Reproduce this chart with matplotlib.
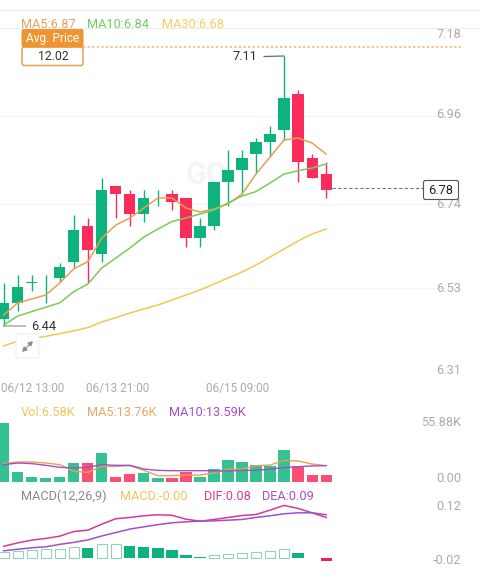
import matplotlib
matplotlib.use('Agg')
import matplotlib.pyplot as plt
from matplotlib.patches import FancyBboxPatch
from matplotlib.transforms import blended_transform_factory

plt.rcParams['font.family'] = ['Roboto', 'DejaVu Sans']

# candles
opens = [6.453, 6.493, 6.543, 6.554, 6.554, 6.594, 6.684, 6.614, 6.785, 6.765, 6.715, 6.754,
         6.765, 6.754, 6.654, 6.684, 6.794, 6.825, 6.865, 6.895, 6.925, 7.015, 6.855, 6.815]
closes = [6.4925, 6.533, 6.543, 6.554, 6.583, 6.674, 6.624, 6.774, 6.765, 6.715, 6.754, 6.754,
          6.745, 6.654, 6.684, 6.794, 6.824, 6.855, 6.895, 6.915, 7.005, 6.846, 6.805, 6.775]
highs = [6.543, 6.5625, 6.5625, 6.5625, 6.592, 6.713, 6.704, 6.804, 6.785, 6.775, 6.775, 6.775,
         6.775, 6.754, 6.704, 6.794, 6.875, 6.875, 6.905, 6.935, 7.11, 7.025, 6.865, 6.845]
lows = [6.435, 6.473, 6.523, 6.493, 6.546, 6.579, 6.543, 6.594, 6.704, 6.685, 6.695, 6.735,
        6.725, 6.633, 6.633, 6.675, 6.735, 6.765, 6.815, 6.858, 6.90, 6.795, 6.805, 6.755]
ma5 = [6.4625, 6.493, 6.5025, 6.5125, 6.5425, 6.578, 6.596, 6.655, 6.6875, 6.705, 6.73, 6.755,
       6.755, 6.73, 6.72, 6.7275, 6.74, 6.765, 6.815, 6.8575, 6.90, 6.905, 6.8925, 6.865]
ma10 = [6.4375, 6.46, 6.471, 6.482, 6.493, 6.521, 6.54, 6.58, 6.605, 6.63, 6.6575, 6.6775,
        6.696, 6.705, 6.715, 6.725, 6.7425, 6.76, 6.771, 6.7925, 6.815, 6.823, 6.83, 6.84]
ma30 = [6.385, 6.3975, 6.404, 6.409, 6.416, 6.423, 6.431, 6.445, 6.456, 6.4675, 6.4775, 6.4875,
        6.50, 6.5125, 6.525, 6.54, 6.555, 6.57, 6.5875, 6.6075, 6.6275, 6.6475, 6.665, 6.6775]

# volume, in K
vol = [56, 9.8, 4.7, 4.1, 5, 17.7, 18, 27.5, 5, 7.3, 8.8, 3.8,
       3.5, 9.8, 4.7, 12.3, 20.8, 19.3, 16.4, 15.5, 30.6, 14.8, 7, 6.58]
vol_ma5 = [17.4, 18.9, 18.9, 18, 16.4, 10.1, 9.1, 14.8, 14.8, 15.5, 11, 6,
           6, 6.6, 6.6, 8.5, 12.3, 12, 15.5, 16, 20.5, 19.9, 17, 15.5]
vol_ma10 = [16.4, 18, 17.4, 15.8, 13.9, 13.3, 13.9, 16.4, 15.8, 15.8, 12.3, 11,
            10.7, 10.7, 10.7, 10.7, 10.4, 11, 11, 12.3, 13.6, 14.5, 15.2, 15.5]

# macd
dif = [0.024, 0.031, 0.0365, 0.04, 0.0446, 0.054, 0.0568, 0.069, 0.08, 0.0825, 0.086, 0.088,
       0.087, 0.079, 0.075, 0.0785, 0.0825, 0.0865, 0.0886, 0.0974, 0.107, 0.1008, 0.092, 0.0825]
dea = [0.015, 0.018, 0.021, 0.023, 0.028, 0.032, 0.037, 0.045, 0.052, 0.059, 0.0635, 0.068,
       0.0717, 0.0737, 0.075, 0.0757, 0.077, 0.0785, 0.0825, 0.086, 0.09, 0.092, 0.092, 0.088]
hist = [0.013, 0.014, 0.016, 0.0176, 0.018, 0.023, 0.02, 0.028, 0.029, 0.025, 0.023, 0.02,
        0.016, 0.0068, 0.002, 0.0054, 0.0074, 0.0095, 0.012, 0.0135, 0.019, 0.0095, 0.001, -0.0068]

date_ticks = [-0.2, 8.15, 16.7]
date_labels = ['06/12 13:00', '06/13 21:00', '06/15 09:00']
price_ticks = [7.18, 6.96, 6.74, 6.53, 6.31]
last_price = 6.78
high_price = 7.11
low_price = 6.44
avg_line = 7.1325

GREEN = '#0DB27C'
RED = '#FB2C5A'
VOL_GREEN = '#34C293'
VOL_RED = '#FC4F74'
ORANGE = '#E8A052'
LIME = '#7CCB58'
YELLOW = '#F0C850'
PURPLE = '#A24FCB'
PINK = '#D23C94'
GRAY = '#ABABAB'
W, H = 481, 583


def make_axes(top, bottom):
    ax = fig.add_axes([0, 1 - bottom / H, 461 / W, (bottom - top) / H])
    ax.set_xlim(-0.264, 32.62)
    for s in ax.spines.values():
        s.set_visible(False)
    ax.patch.set_alpha(0)
    ax.set_xticks([])
    ax.set_yticks([])
    return ax


def right_label(ax, val, txt, dy=0):
    tr = blended_transform_factory(ax.transAxes, ax.transData)
    ax.annotate(txt, (1, val), xycoords=tr, xytext=(0, dy), textcoords='offset pixels',
                ha='right', va='center', color=GRAY, fontsize=9.2, annotation_clip=False)


fig = plt.figure(figsize=(W / 100, H / 100), dpi=100, facecolor='white')

# pixel overlay for the header and the boxes
over = fig.add_axes([0, 0, 1, 1], zorder=5)
over.set_xlim(0, W)
over.set_ylim(H, 0)
over.axis('off')
over.patch.set_alpha(0)

over.axhline(10, color='#EDEDED', lw=0.8)
over.axhline(28, color='#EDEDED', lw=0.8)

# price pane
ax = make_axes(28, 376)
ax.set_ylim(6.31, 7.18)
ax.set_yticks(price_ticks[1:4])
ax.set_yticklabels([])
ax.tick_params(axis='y', length=0)
ax.grid(axis='y', color='#F4F4F4', lw=0.8)
ax.set_axisbelow(True)
ax.set_xticks(date_ticks)
ax.set_xticklabels(date_labels, color=GRAY, fontsize=8.5)
ax.tick_params(axis='x', length=0, pad=4)
ax.get_xticklabels()[0].set_ha('left')

# faint watermark
ax.text(13, 6.8125, 'GO', color='#F4F4F4', fontsize=22, fontweight='bold', ha='left', va='center', zorder=0)

for i in range(len(opens)):
    c = GREEN if closes[i] >= opens[i] else RED
    ax.vlines(i, lows[i], highs[i], color=c, lw=1.0, zorder=2)
    h = abs(closes[i] - opens[i])
    ax.bar(i, max(h, 0.002), bottom=min(opens[i], closes[i]), width=0.8, color=c, zorder=3)

xs = range(len(opens))
ax.plot(xs, ma5, color=ORANGE, lw=1.1, zorder=4)
ax.plot(xs, ma10, color=LIME, lw=1.1, zorder=4)
ax.plot(xs, ma30, color=YELLOW, lw=1.1, zorder=4)

for val, dy in zip(price_ticks, [-6, 1, -1, -1, 5]):
    right_label(ax, val, f'{val:.2f}', dy)

# avg price line + box
ax.axhline(avg_line, xmin=0.18, color=ORANGE, lw=1.1, ls=(0, (1.5, 1.5)), alpha=0.8)
over.add_patch(FancyBboxPatch((22, 47), 61, 18.5, boxstyle='round,pad=0,rounding_size=2.5',
                              fc='white', ec=ORANGE, lw=1.1))
over.add_patch(FancyBboxPatch((21.5, 28.5), 62, 19, boxstyle='round,pad=0,rounding_size=2.5',
                              fc='#EE9430', ec='none'))
over.text(52.5, 38.5, 'Avg. Price', color='white', fontsize=8.6, ha='center', va='center')
over.text(53, 57, '12.02', color='#333333', fontsize=8.8, ha='center', va='center')

# high and low callouts
ax.annotate(f'{high_price:.2f}', xy=(20, high_price), xytext=(257, 57), xycoords='data',
            textcoords=over.transData, ha='right', va='center', fontsize=9.2, color='#333333',
            arrowprops=dict(arrowstyle='-', color='#55756A', lw=0.9, shrinkA=3, shrinkB=0))
ax.annotate(f'{low_price:.2f}', xy=(0, low_price - 0.005), xytext=(31, 326), xycoords='data',
            textcoords=over.transData, ha='left', va='center', fontsize=9.2, color='#333333',
            arrowprops=dict(arrowstyle='-', color='#999999', lw=0.9, shrinkA=2, shrinkB=0))

# last price
ax.hlines(last_price, 23.4, 30, color='#777777', lw=0.8, ls=(0, (3, 2)), zorder=4)
over.add_patch(FancyBboxPatch((423.5, 180.5), 35, 19, boxstyle='round,pad=0,rounding_size=2',
                              fc='white', ec='#555555', lw=0.8))
over.text(441, 190, f'{last_price:.2f}', color='#222222', fontsize=9.2, ha='center', va='center')

# expand button, the icon is two small diagonal arrows
over.add_patch(FancyBboxPatch((16, 334), 23, 24, boxstyle='round,pad=0,rounding_size=3',
                              fc='white', ec='#F0F0F0', lw=0.8))
for start, end in [((27, 347), (22, 352)), ((28, 346), (33, 341))]:
    over.annotate('', xy=end, xytext=start,
                  arrowprops=dict(arrowstyle='-|>,head_width=0.14,head_length=0.25', color='#8A9099',
                                  lw=1.0, shrinkA=0, shrinkB=0))

# header legend
for x, txt, col in [(21, 'MA5:6.87', '#E9A15B'), (87, 'MA10:6.84', '#6DD05E'), (162, 'MA30:6.68', '#F2CF66')]:
    over.text(x, 25, txt, color=col, fontsize=9.2, ha='left', va='center', zorder=1)

# volume pane
ax_vol = make_axes(423, 482)
ax_vol.set_ylim(0, 55.88)
vol_colors = [VOL_GREEN if closes[i] >= opens[i] else VOL_RED for i in xs]
ax_vol.bar(xs, vol, width=0.8, color=vol_colors, clip_on=False)
ax_vol.plot(xs, vol_ma5, color=ORANGE, lw=1.0)
ax_vol.plot(xs, vol_ma10, color=PURPLE, lw=1.0)
ax_vol.axhline(0, color='#F2F2F2', lw=0.6)
right_label(ax_vol, 55.88, '55.88K')
right_label(ax_vol, 0, '0.00', 4)
for x, txt, col in [(21, 'Vol:6.58K', '#EBC65A'), (87, 'MA5:13.76K', '#E8A860'), (169, 'MA10:13.59K', PURPLE)]:
    over.text(x, 413, txt, color=col, fontsize=9.2, ha='left', va='center')

# macd pane
ax_macd = make_axes(499, 568)
ax_macd.set_ylim(-0.02, 0.12)
for i, v in enumerate(hist):
    if v < 0:
        ax_macd.bar(i, v, width=0.8, color='#E0245E')
    elif i == 0 or v > hist[i - 1]:
        ax_macd.bar(i, v, width=0.72, facecolor='white', edgecolor='#8FD3BC', lw=0.8)
    else:
        ax_macd.bar(i, v, width=0.8, color=GREEN)
ax_macd.plot(xs, dif, color=PINK, lw=1.1)
ax_macd.plot(xs, dea, color=PURPLE, lw=1.1)
right_label(ax_macd, 0.12, '0.12', -7)
right_label(ax_macd, -0.02, '-0.02', 7)
for x, txt, col in [(21, 'MACD(12,26,9)', '#8A8A8A'), (120, 'MACD:-0.00', '#EBC65A'),
                    (204, 'DIF:0.08', PINK), (262, 'DEA:0.09', PURPLE)]:
    over.text(x, 496, txt, color=col, fontsize=9.2, ha='left', va='center')

fig.savefig('out.png', dpi=100)
